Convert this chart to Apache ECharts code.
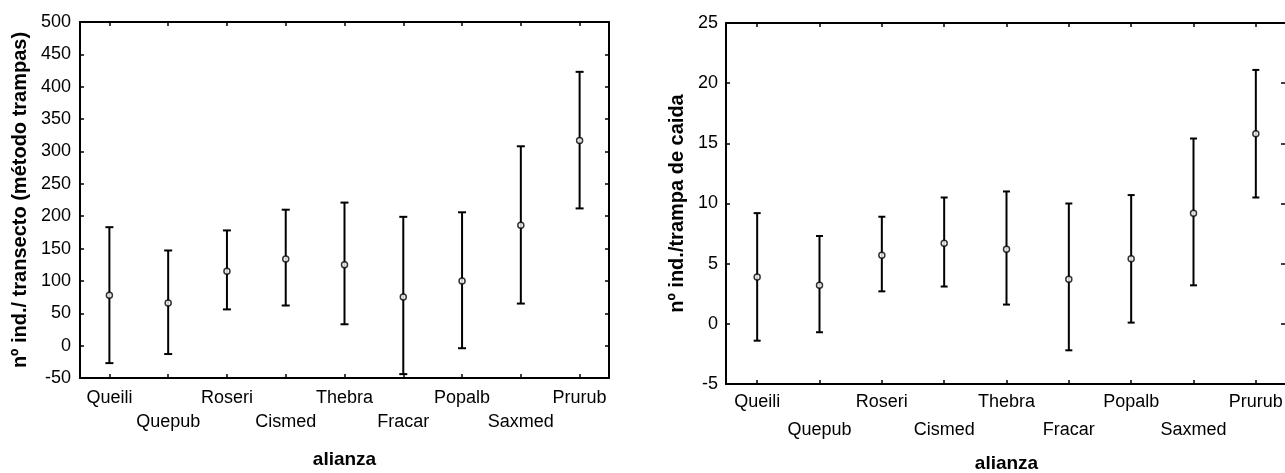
<!DOCTYPE html>
<html>
<head>
<meta charset="utf-8">
<script src="https://cdn.jsdelivr.net/npm/echarts@6/dist/echarts.min.js"></script>
<style>
  html, body { margin: 0; padding: 0; background: #fff; }
  #chart { width: 1285px; height: 473px; }
</style>
</head>
<body>
<div id="chart"></div>
<script>
// ---- data ----
const categories = ['Queili', 'Quepub', 'Roseri', 'Cismed', 'Thebra', 'Fracar', 'Popalb', 'Saxmed', 'Prurub'];

const transectMean = [78, 66, 115, 134, 125, 75, 100, 186, 317];
const transectLow  = [-27, -13, 56, 62, 33, -44, -4, 65, 212];
const transectHigh = [183, 147, 178, 210, 221, 199, 206, 308, 423];

const trapMean = [3.9, 3.2, 5.7, 6.7, 6.2, 3.7, 5.4, 9.2, 15.8];
const trapLow  = [-1.4, -0.7, 2.7, 3.1, 1.6, -2.2, 0.1, 3.2, 10.5];
const trapHigh = [9.2, 7.3, 8.9, 10.5, 11.0, 10.0, 10.7, 15.4, 21.1];

const leftYTitle = 'nº ind./ transecto (método trampas)';
const rightYTitle = 'nº ind./trampa de caida';
const xTitle = 'alianza';

// ---- helpers ----
const FONT = '"Liberation Sans", Arial, sans-serif';
const lineStyle = { color: '#000', width: 2 };
const tickStyle = { color: '#000', width: 1.5 };

function errorBarRender(capHalf) {
  return function (params, api) {
    const x = api.value(0);
    const lo = api.coord([x, api.value(1)]);
    const hi = api.coord([x, api.value(2)]);
    const style = { stroke: '#000', lineWidth: 2, fill: null };
    return {
      type: 'group',
      children: [
        { type: 'line', shape: { x1: lo[0], y1: lo[1], x2: hi[0], y2: hi[1] }, style: style },
        { type: 'line', shape: { x1: hi[0] - capHalf, y1: hi[1], x2: hi[0] + capHalf, y2: hi[1] }, style: style },
        { type: 'line', shape: { x1: lo[0] - capHalf, y1: lo[1], x2: lo[0] + capHalf, y2: lo[1] }, style: style }
      ]
    };
  };
}

function bottomX(grid, lineH, margin, gap) {
  return {
    type: 'category', gridIndex: grid, data: categories, position: 'bottom',
    boundaryGap: true,
    axisLine: { show: true, onZero: false, lineStyle: lineStyle },
    axisTick: { show: true, inside: true, alignWithLabel: true, length: 4, lineStyle: tickStyle },
    axisLabel: {
      interval: 0, margin: margin, color: '#000', fontFamily: FONT, fontSize: 18,
      lineHeight: lineH,
      formatter: function (v, i) { return i % 2 ? '\n' + v : v; }
    },
    name: xTitle, nameLocation: 'middle', nameGap: gap,
    nameTextStyle: { color: '#000', fontFamily: FONT, fontSize: 19, fontWeight: 'bold' },
    splitLine: { show: false }
  };
}
function topX(grid) {
  return {
    type: 'category', gridIndex: grid, data: categories, position: 'top',
    boundaryGap: true,
    axisLine: { show: true, onZero: false, lineStyle: lineStyle },
    axisTick: { show: true, inside: true, alignWithLabel: true, length: 4, lineStyle: tickStyle },
    axisLabel: { show: false },
    splitLine: { show: false }
  };
}
function leftY(grid, min, max, interval, name, gap, margin) {
  return {
    type: 'value', gridIndex: grid, min: min, max: max, interval: interval, position: 'left',
    axisLine: { show: true, onZero: false, lineStyle: lineStyle },
    axisTick: { show: true, inside: true, length: 4, lineStyle: tickStyle },
    axisLabel: { margin: margin, color: '#000', fontFamily: FONT, fontSize: 18 },
    splitLine: { show: false },
    name: name, nameLocation: 'middle', nameGap: gap,
    nameTextStyle: { color: '#000', fontFamily: FONT, fontSize: 20, fontWeight: 'bold' }
  };
}
function rightY(grid, min, max, interval, tickLen) {
  return {
    type: 'value', gridIndex: grid, min: min, max: max, interval: interval, position: 'right',
    axisLine: { show: true, onZero: false, lineStyle: lineStyle },
    axisTick: { show: true, inside: true, length: tickLen, lineStyle: tickStyle },
    axisLabel: { show: false },
    splitLine: { show: false }
  };
}

const chart = echarts.init(document.getElementById('chart'));
chart.setOption({
  animation: false,
  backgroundColor: '#fff',
  grid: [
    { left: 80, top: 22, width: 529, height: 356, containLabel: false, outerBoundsMode: 'none' },
    { left: 726, top: 23, width: 561, height: 361, containLabel: false, outerBoundsMode: 'none' }
  ],
  xAxis: [
    bottomX(0, 24, 8, 72),
    topX(0),
    bottomX(1, 28, 4, 70),
    topX(1)
  ],
  yAxis: [
    leftY(0, -50, 500, 50, leftYTitle, 50, 9),
    rightY(0, -50, 500, 50, 4),
    leftY(1, -5, 25, 5, rightYTitle, 39, 8),
    rightY(1, -5, 25, 5, 6)
  ],
  series: [
    {
      type: 'custom', xAxisIndex: 0, yAxisIndex: 0,
      renderItem: errorBarRender(4),
      encode: { x: 0, y: [1, 2] },
      data: categories.map((c, i) => [i, transectLow[i], transectHigh[i]]),
      z: 2
    },
    {
      type: 'scatter', xAxisIndex: 0, yAxisIndex: 0,
      data: transectMean, symbol: 'circle', symbolSize: 6,
      itemStyle: { color: '#fff', borderColor: '#000', borderWidth: 1.5 },
      z: 3
    },
    {
      type: 'custom', xAxisIndex: 2, yAxisIndex: 2,
      renderItem: errorBarRender(3.5),
      encode: { x: 0, y: [1, 2] },
      data: categories.map((c, i) => [i, trapLow[i], trapHigh[i]]),
      z: 2
    },
    {
      type: 'scatter', xAxisIndex: 2, yAxisIndex: 2,
      data: trapMean, symbol: 'circle', symbolSize: 6,
      itemStyle: { color: '#fff', borderColor: '#000', borderWidth: 1.5 },
      z: 3
    }
  ]
});
</script>
</body>
</html>
